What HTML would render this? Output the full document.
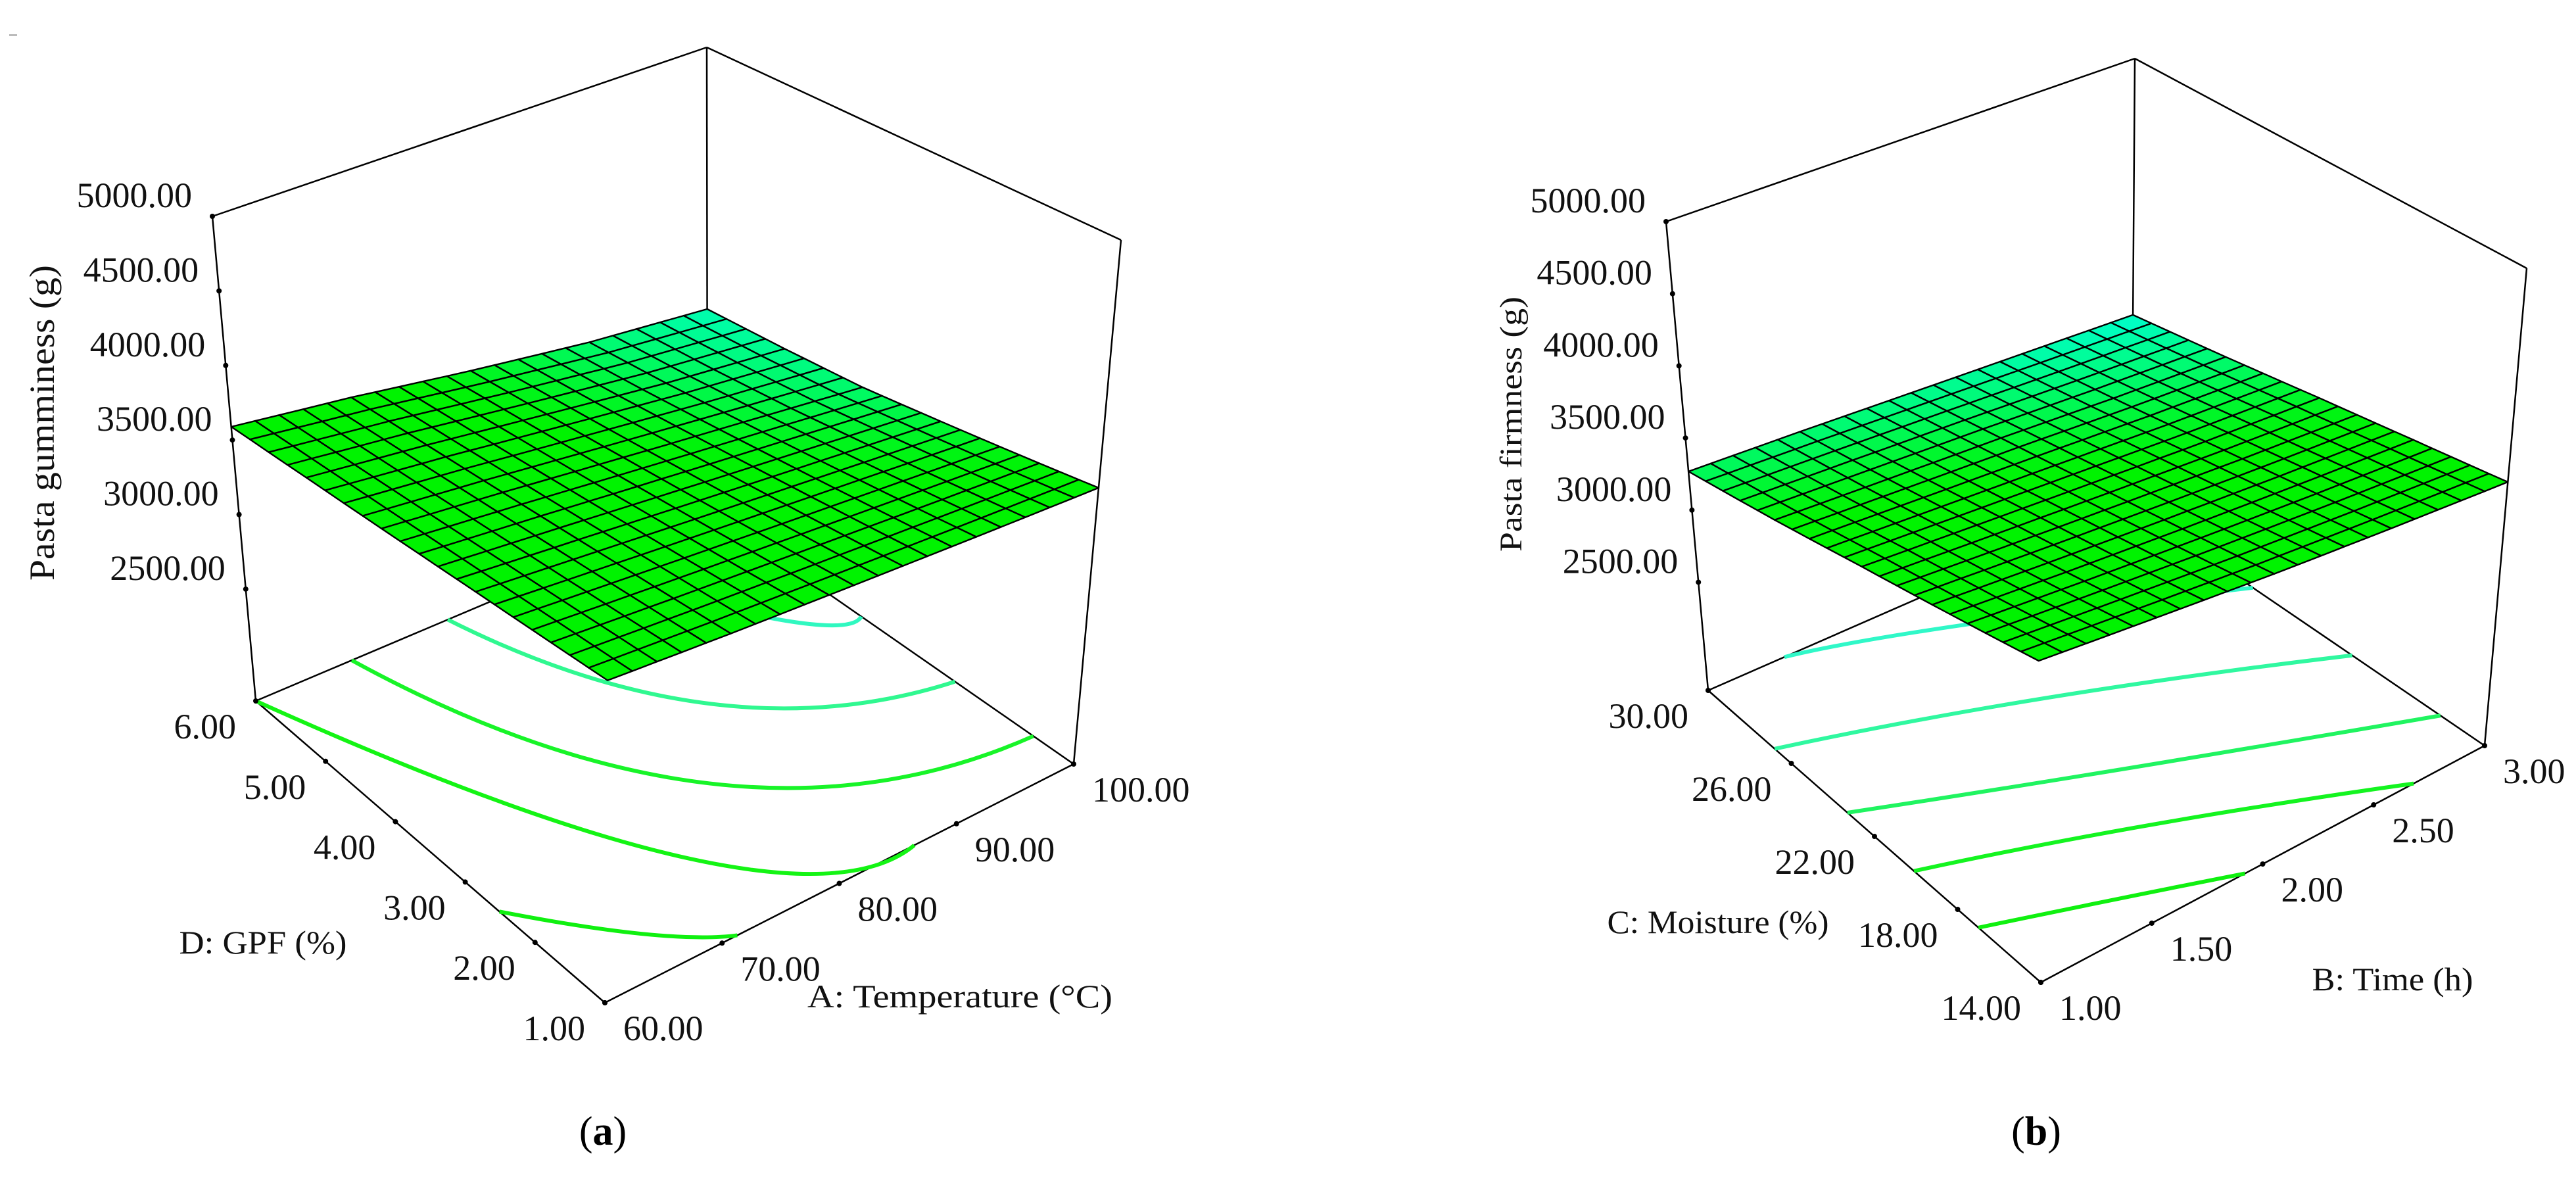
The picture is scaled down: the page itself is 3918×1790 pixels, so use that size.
<!DOCTYPE html>
<html><head><meta charset="utf-8"><style>
html,body{margin:0;padding:0;background:#fff;}
svg{display:block;font-family:"Liberation Serif",serif;}
text{font-family:"Liberation Serif",serif;}
</style></head><body>
<svg id="fig" width="3918" height="1790" viewBox="0 0 3918 1790" xmlns="http://www.w3.org/2000/svg">
<rect x="0" y="0" width="3918" height="1790" fill="#fff"/>
<rect x="14" y="52" width="12" height="3" fill="#bbb"/>
<g id="panelA"></g>
<g id="panelB"></g>
<text x="917" y="1741" font-size="62" font-family="Liberation Serif, serif" text-anchor="middle" fill="#000">(<tspan font-weight="bold">a</tspan>)</text>
<text x="3097" y="1741" font-size="62" font-family="Liberation Serif, serif" text-anchor="middle" fill="#000">(<tspan font-weight="bold">b</tspan>)</text>
</svg>
<script>
// ---------- Panel (a) data ----------
const aTempCats = [60, 70, 80, 90, 100];          // A: Temperature (°C)
const aGpfCats  = [1, 2, 3, 4, 5, 6];              // D: GPF (%)
const aGumminess = [                               // rows = GPF, cols = Temperature
  [3667, 3610, 3560, 3510, 3463],
  [3652, 3585, 3520, 3455, 3390],
  [3637, 3560, 3480, 3400, 3318],
  [3620, 3535, 3440, 3345, 3246],
  [3605, 3510, 3400, 3290, 3200],
  [3589, 3485, 3360, 3245, 3160]
];
const aTempTicks = ["60.00", "70.00", "80.00", "90.00", "100.00"];
const aTempTickVals = [60, 70, 80, 90, 100];
const aGpfTicks = ["1.00", "2.00", "3.00", "4.00", "5.00", "6.00"];
const aGpfTickVals = [1, 2, 3, 4, 5, 6];
const aContours = [                               // [Temperature, GPF] points
  [[60, 2.51], [66.4, 1.52], [71.3, 1]],
  [[60, 6], [73.8, 2.08], [86.4, 1]],
  [[68.5, 6], [80.1, 2.78], [100, 1.55]],
  [[77, 6], [85.6, 3.69], [100, 2.62]],
  [[88, 6], [95.5, 4.29], [100, 3.9]]
];
const aContourColors = ["#10f010", "#14f414", "#18f428", "#30f890", "#30f8c0"];

// ---------- Panel (b) data ----------
const bTimeCats = [1, 1.5, 2, 2.5, 3];             // B: Time (h)
const bMoistCats = [14, 18, 22, 26, 30];           // C: Moisture (%)
const bFirmness = [                                // rows = Moisture, cols = Time
  [3841, 3760, 3680, 3610, 3545],
  [3700, 3630, 3565, 3505, 3450],
  [3560, 3505, 3450, 3395, 3350],
  [3410, 3370, 3330, 3280, 3240],
  [3268, 3240, 3205, 3170, 3134]
];
const bTimeTicks = ["1.00", "1.50", "2.00", "2.50", "3.00"];
const bTimeTickVals = [1, 1.5, 2, 2.5, 3];
const bMoistTicks = ["14.00", "18.00", "22.00", "26.00", "30.00"];
const bMoistTickVals = [14, 18, 22, 26, 30];
const bContours = [                               // [Time, Moisture] points
  [[1, 17.0], [1.48, 15.5], [1.92, 14]],
  [[1, 20.1], [1.83, 17.5], [2.68, 14]],
  [[1, 23.3], [1.93, 20.1], [3, 16.0]],
  [[1, 26.8], [2.0, 24.0], [3, 20]],
  [[1.36, 30], [2.0, 28.3], [3, 24.5]]
];
const bContourColors = ["#10f010", "#14f420", "#20f460", "#30f8a0", "#30f8c8"];

// ---------- shared response axis ----------
const zTickVals = [2500, 3000, 3500, 4000, 4500, 5000];
const zTickLabels = ["2500.00", "3000.00", "3500.00", "4000.00", "4500.00", "5000.00"];
const Z_MIN = 1750, Z_MAX = 5000;

const NS = "http://www.w3.org/2000/svg";
function mk(parent, tag, attrs) {
  const e = document.createElementNS(NS, tag);
  for (const k in attrs) e.setAttribute(k, attrs[k]);
  if (tag === "text") e.setAttribute("font-family", "Liberation Serif, serif");
  parent.appendChild(e);
  return e;
}
function lerp(a, b, t) { return [a[0] + (b[0] - a[0]) * t, a[1] + (b[1] - a[1]) * t]; }
function makeProj(g) {
  return function (u, v, t) {
    const f = lerp(lerp(g.F00, g.F10, u), lerp(g.F01, g.F11, u), v);
    const tp = lerp(lerp(g.T00, g.T10, u), lerp(g.T01, g.T11, u), v);
    return lerp(f, tp, t);
  };
}
function zt(z) { return (z - Z_MIN) / (Z_MAX - Z_MIN); }
function sample(grid, u, v) {
  const nc = grid[0].length - 1, nr = grid.length - 1;
  const x = u * nc, y = v * nr;
  const i = Math.min(Math.floor(x), nc - 1), j = Math.min(Math.floor(y), nr - 1);
  const fx = x - i, fy = y - j;
  const a = grid[j][i] * (1 - fx) + grid[j][i + 1] * fx;
  const b = grid[j + 1][i] * (1 - fx) + grid[j + 1][i + 1] * fx;
  return a * (1 - fy) + b * fy;
}
function color(z) {
  let t = (z - 3130) / (3430 - 3130);
  t = Math.max(0, Math.min(1, t));
  const g = Math.round(255 - 12 * t), b = Math.round(210 * Math.pow(1 - t, 1.3));
  return "rgb(0," + g + "," + b + ")";
}
function pts(arr) { return arr.map(p => p[0].toFixed(1) + "," + p[1].toFixed(1)).join(" "); }

function drawPanel(root, g, d) {
  const P = makeProj(g);
  const uOf = x => (x - d.uMin) / (d.uMax - d.uMin);
  const vOf = x => (x - d.vMin) / (d.vMax - d.vMin);
  const line = (a, b, name) => {
    const l = mk(root, "line", { x1: a[0], y1: a[1], x2: b[0], y2: b[1], stroke: "#000", "stroke-width": 2.5 });
    
    
  };
  line(P(1, 1, 0), P(1, 1, 1), "back-vertical-edge");
  line(P(0, 1, 1), P(1, 1, 1), "top-back-left-edge");
  line(P(1, 0, 1), P(1, 1, 1), "top-back-right-edge");
  line(P(0, 1, 0), P(1, 1, 0), "floor-back-left-edge");
  line(P(1, 0, 0), P(1, 1, 0), "floor-back-right-edge");
  line(P(0, 0, 0), P(1, 0, 0), "floor-front-right-edge");
  line(P(0, 0, 0), P(0, 1, 0), "floor-front-left-edge");
  const cg = mk(root, "g", {});
  
  
  d.contours.forEach((c, k) => {
    const p = c.map(q => P(uOf(q[0]), vOf(q[1]), 0));
    const s = p[0], m = p[1], e = p[2];
    const cx = 2 * m[0] - (s[0] + e[0]) / 2, cy = 2 * m[1] - (s[1] + e[1]) / 2;
    const path = mk(cg, "path", { d: "M" + s[0] + "," + s[1] + " Q" + cx + "," + cy + " " + e[0] + "," + e[1], fill: "none", stroke: d.contourColors[k], "stroke-width": 6 });
    
    
  });
  const sg = mk(root, "g", {});
  
  
  const N = 20;
  for (let j = N - 1; j >= 0; j--) {
    for (let i = N - 1; i >= 0; i--) {
      const u0 = i / N, u1 = (i + 1) / N, v0 = j / N, v1 = (j + 1) / N;
      const z00 = sample(d.grid, u0, v0), z10 = sample(d.grid, u1, v0), z11 = sample(d.grid, u1, v1), z01 = sample(d.grid, u0, v1);
      const poly = [P(u0, v0, zt(z00)), P(u1, v0, zt(z10)), P(u1, v1, zt(z11)), P(u0, v1, zt(z01))];
      const zc = (z00 + z10 + z11 + z01) / 4;
      const pg = mk(sg, "polygon", { points: pts(poly), fill: color(zc), stroke: "#000", "stroke-width": 2.4, "stroke-linejoin": "round" });
      
      
    }
  }
  line(P(0, 1, 0), P(0, 1, 1), "z-axis-line");
  line(P(1, 0, 0), P(1, 0, 1), "right-vertical-edge");
  zTickVals.forEach((z, k) => {
    const p = P(0, 1, zt(z));
    const c = mk(root, "circle", { cx: p[0], cy: p[1], r: 4, fill: "#000" });
    
    
    const t = mk(root, "text", { x: p[0] - 31, y: p[1] - 14, "font-size": 54, "text-anchor": "end", fill: "#111" });
    t.textContent = zTickLabels[k];
    
    
  });
  d.uTickVals.forEach((val, k) => {
    const p = P(uOf(val), 0, 0);
    const c = mk(root, "circle", { cx: p[0], cy: p[1], r: 4, fill: "#000" });
    
    
    const t = mk(root, "text", { x: p[0] + 28, y: p[1] + 57, "font-size": 54, "text-anchor": "start", fill: "#111" });
    t.textContent = d.uTicks[k];
    
    
  });
  d.vTickVals.forEach((val, k) => {
    const p = P(0, vOf(val), 0);
    const c = mk(root, "circle", { cx: p[0], cy: p[1], r: 4, fill: "#000" });
    
    
    const t = mk(root, "text", { x: p[0] - 30, y: p[1] + 57, "font-size": 54, "text-anchor": "end", fill: "#111" });
    t.textContent = d.vTicks[k];
    
    
  });
  const zt1 = mk(root, "text", { x: 0, y: 0, "font-size": d.zFont, "text-anchor": "middle", fill: "#111", textLength: d.zLen, lengthAdjust: "spacingAndGlyphs", transform: "translate(" + (d.zPos[0] + d.zFont * 0.35) + "," + d.zPos[1] + ") rotate(-90)" });
  zt1.textContent = d.zTitle;
  
  
  const ut = mk(root, "text", { x: d.uPos[0], y: d.uPos[1] + 17, "font-size": 50, "text-anchor": "middle", fill: "#111", textLength: d.uLen, lengthAdjust: "spacingAndGlyphs" });
  ut.textContent = d.uTitle;
  
  
  const vt = mk(root, "text", { x: d.vPos[0], y: d.vPos[1] + 17, "font-size": 50, "text-anchor": "middle", fill: "#111", textLength: d.vLen, lengthAdjust: "spacingAndGlyphs" });
  vt.textContent = d.vTitle;
  
  
}

drawPanel(document.getElementById("panelA"),
  { F00: [920, 1525], F10: [1633, 1162], F01: [389, 1066], F11: [1076, 775],
    T00: [927, 694], T10: [1705, 365], T01: [323, 329], T11: [1075, 72] },
  { grid: aGumminess, uMin: aTempCats[0], uMax: aTempCats[aTempCats.length - 1], vMin: aGpfCats[0], vMax: aGpfCats[aGpfCats.length - 1],
    contours: aContours, contourColors: aContourColors,
    uTicks: aTempTicks, uTickVals: aTempTickVals, vTicks: aGpfTicks, vTickVals: aGpfTickVals,
    zTitle: "Pasta gumminess (g)", zPos: [63, 643], zFont: 54, zLen: 480,
    uTitle: "A: Temperature (°C)", uPos: [1460, 1515], uLen: 464,
    vTitle: "D: GPF (%)", vPos: [400, 1433], vLen: 255 });

drawPanel(document.getElementById("panelB"),
  { F00: [3104, 1494], F10: [3779, 1134], F01: [2598, 1050], F11: [3242, 768],
    T00: [3099, 734], T10: [3843, 408], T01: [2534, 337], T11: [3247, 89] },
  { grid: bFirmness, uMin: bTimeCats[0], uMax: bTimeCats[bTimeCats.length - 1], vMin: bMoistCats[0], vMax: bMoistCats[bMoistCats.length - 1],
    contours: bContours, contourColors: bContourColors,
    uTicks: bTimeTicks, uTickVals: bTimeTickVals, vTicks: bMoistTicks, vTickVals: bMoistTickVals,
    zTitle: "Pasta firmness (g)", zPos: [2297, 645], zFont: 48, zLen: 388,
    uTitle: "B: Time (h)", uPos: [3639, 1489], uLen: 245,
    vTitle: "C: Moisture (%)", vPos: [2613, 1402], vLen: 337 });
</script>
</body></html>
